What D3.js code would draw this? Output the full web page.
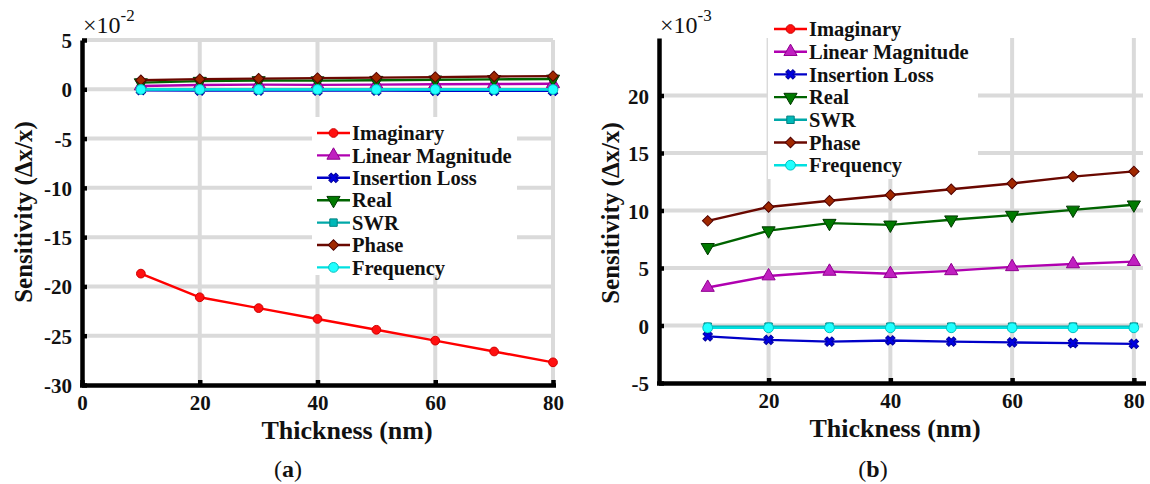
<!DOCTYPE html>
<html lang="en">
  <head>
    <meta charset="UTF-8" />
    <title>Sensitivity vs Thickness</title>
    <script src="https://d3js.org/d3.v7.min.js"></script>
    <style>
      body {
        margin: 0;
        background: #fff;
      }
      svg text {
        font-family: "Liberation Serif", "Times New Roman", serif;
      }
      .tick text {
        font-weight: bold;
        font-size: 21px;
        fill: #111;
      }
    </style>
  </head>
  <body>
    <div id="chart"></div>
    <script>
      // thickness in nm, sensitivity values in units of 1e-3
      const thickness = [10, 20, 30, 40, 50, 60, 70, 80];
      const imaginary = [-187, -211, -222, -233, -244, -255, -266, -277];
      const linearMagnitude = [3.3, 4.3, 4.7, 4.5, 4.75, 5.1, 5.35, 5.55];
      const insertionLoss = [-0.95, -1.25, -1.4, -1.3, -1.4, -1.47, -1.53, -1.6];
      const real = [6.8, 8.25, 8.9, 8.75, 9.2, 9.6, 10.05, 10.5];
      const swr = [-0.1, -0.1, -0.1, -0.1, -0.1, -0.1, -0.1, -0.1];
      const phase = [9.1, 10.3, 10.85, 11.35, 11.85, 12.35, 12.95, 13.4];
      const frequency = [-0.2, -0.2, -0.2, -0.2, -0.2, -0.2, -0.2, -0.2];

      const seriesNames = ["Imaginary", "Linear Magnitude", "Insertion Loss", "Real", "SWR", "Phase", "Frequency"];
      const seriesValues = [imaginary, linearMagnitude, insertionLoss, real, swr, phase, frequency];

      const xTicksA = [0, 20, 40, 60, 80];
      const yTicksA = [-30, -25, -20, -15, -10, -5, 0, 5];
      const xTicksB = [20, 40, 60, 80];
      const yTicksB = [-5, 0, 5, 10, 15, 20];

      const styles = [
        { line: "#ff0000", fill: "#ff1010", edge: "#d00000", sym: d3.symbolCircle, size: 60, rot: 0 },
        { line: "#b000b0", fill: "#c020c0", edge: "#900090", sym: d3.symbolTriangle, size: 75, rot: 0 },
        { line: "#0000c8", fill: "#0000e0", edge: "#0000a0", sym: d3.symbolCross, size: 55, rot: 45 },
        { line: "#006400", fill: "#007a00", edge: "#003800", sym: d3.symbolTriangle, size: 75, rot: 180 },
        { line: "#00a8a8", fill: "#00b8b8", edge: "#008080", sym: d3.symbolSquare, size: 55, rot: 0 },
        { line: "#6a0800", fill: "#a02800", edge: "#500000", sym: d3.symbolSquare, size: 55, rot: 45 },
        { line: "#00e0e0", fill: "#20ffff", edge: "#00c0c0", sym: d3.symbolCircle, size: 75, rot: 0 },
      ];

      const width = 1150;
      const height = 484;

      const svg = d3
        .select("#chart")
        .append("svg")
        .attr("width", width)
        .attr("height", height)
        .style("display", "block");

      svg.append("rect").attr("width", width).attr("height", height).attr("fill", "#fff");

      function drawPanel(cfg) {
        const x = d3.scaleLinear().domain(cfg.xDomain).range(cfg.xRange);
        const y = d3.scaleLinear().domain(cfg.yDomain).range(cfg.yRange);
        const g = svg.append("g");

        // grid
        g.append("g")
          .selectAll("line")
          .data(cfg.xTicks.filter((t) => t > cfg.xDomain[0]))
          .join("line")
          .attr("x1", (d) => x(d))
          .attr("x2", (d) => x(d))
          .attr("y1", cfg.yRange[0])
          .attr("y2", cfg.yRange[1])
          .attr("stroke", "#dadada")
          .attr("stroke-width", 4);
        g.append("g")
          .selectAll("line")
          .data(cfg.yTicks.filter((t) => t > cfg.yDomain[0]))
          .join("line")
          .attr("x1", cfg.xRange[0])
          .attr("x2", cfg.xRange[1])
          .attr("y1", (d) => y(d))
          .attr("y2", (d) => y(d))
          .attr("stroke", "#dadada")
          .attr("stroke-width", 4);

        // legend background hides the grid
        const lg = cfg.legend;
        g.append("rect")
          .attr("x", lg.box[0])
          .attr("y", lg.box[1])
          .attr("width", lg.box[2])
          .attr("height", lg.box[3])
          .attr("fill", "#fff");

        // data
        const clipId = "clip-" + cfg.id;
        svg.append("clipPath")
          .attr("id", clipId)
          .append("rect")
          .attr("x", cfg.xRange[0])
          .attr("y", cfg.yRange[1] - 8)
          .attr("width", cfg.xRange[1] - cfg.xRange[0] + 10)
          .attr("height", cfg.yRange[0] - cfg.yRange[1] + 8);

        const plot = g.append("g").attr("clip-path", `url(#${clipId})`);
        const line = d3
          .line()
          .x((d) => x(d[0]))
          .y((d) => y(d[1]));

        seriesValues.forEach((vals, i) => {
          const st = styles[i];
          const pts = thickness.map((t, j) => [t, vals[j] / cfg.unit]);
          plot.append("path")
            .datum(pts)
            .attr("fill", "none")
            .attr("stroke", st.line)
            .attr("stroke-width", 2.4)
            .attr("d", line);
          plot.append("g")
            .selectAll("path")
            .data(pts)
            .join("path")
            .attr("d", d3.symbol(st.sym, st.size))
            .attr("transform", (d) => `translate(${x(d[0])},${y(d[1])}) rotate(${st.rot})`)
            .attr("fill", st.fill)
            .attr("stroke", st.edge)
            .attr("stroke-width", 1);
        });

        // legend entries
        seriesNames.forEach((name, i) => {
          const st = styles[i];
          const ry = lg.y0 + i * lg.step;
          const row = g.append("g");
          row.append("line")
            .attr("x1", lg.x0)
            .attr("x2", lg.x0 + 33)
            .attr("y1", ry)
            .attr("y2", ry)
            .attr("stroke", st.line)
            .attr("stroke-width", 2.4);
          row.append("path")
            .attr("d", d3.symbol(st.sym, st.size))
            .attr("transform", `translate(${lg.x0 + 16.5},${ry}) rotate(${st.rot})`)
            .attr("fill", st.fill)
            .attr("stroke", st.edge);
          row.append("text")
            .attr("x", lg.x0 + 35)
            .attr("y", ry)
            .attr("dy", "0.35em")
            .attr("font-size", 20.5)
            .attr("font-weight", "bold")
            .attr("fill", "#111")
            .text(name);
        });

        // axes
        const fmt = (d) => String(d);
        const yAxis = g.append("g")
          .attr("transform", `translate(${cfg.xRange[0]},0)`)
          .call(d3.axisLeft(y).tickValues(cfg.yTicks).tickFormat(fmt).tickSize(-5).tickSizeOuter(0).tickPadding(10));
        const xAxis = g.append("g")
          .attr("transform", `translate(0,${cfg.yRange[0]})`)
          .call(d3.axisBottom(x).tickValues(cfg.xTicks).tickFormat(fmt).tickSize(-5).tickSizeOuter(0).tickPadding(10));
        [xAxis, yAxis].forEach((a) => {
          a.select(".domain").attr("stroke", "#000").attr("stroke-width", 4.5);
          a.selectAll(".tick line").attr("stroke", "#000").attr("stroke-width", 4.5);
        });
        xAxis.select(".domain").attr("d", `M${cfg.xRange[0] - 2},0.5H${cfg.xRange[1] + 3}`);
        yAxis.selectAll(".tick text").attr("dy", "0.36em");

        // exponent
        const ex = g.append("text")
          .attr("x", cfg.xRange[0] + 1)
          .attr("y", 33)
          .attr("font-size", 24)
          .attr("fill", "#111");
        ex.append("tspan").text("×10");
        ex.append("tspan").attr("dy", -12).attr("font-size", 17).text(cfg.expLabel);

        // axis labels
        g.append("text")
          .attr("transform", `translate(${cfg.yLabelX},${cfg.yLabelY}) rotate(-90)`)
          .attr("text-anchor", "middle")
          .attr("font-size", 25)
          .attr("font-weight", "bold")
          .attr("fill", "#111")
          .text("Sensitivity (Δx/x)");
        g.append("text")
          .attr("x", cfg.xLabelX)
          .attr("y", cfg.xLabelY)
          .attr("text-anchor", "middle")
          .attr("font-size", 26)
          .attr("font-weight", "bold")
          .attr("fill", "#111")
          .text("Thickness (nm)");

        // caption
        const cap = g.append("text")
          .attr("x", cfg.capX)
          .attr("y", 477)
          .attr("text-anchor", "middle")
          .attr("font-size", 24)
          .attr("fill", "#111");
        cap.append("tspan").text("(");
        cap.append("tspan").attr("font-weight", "bold").text(cfg.caption);
        cap.append("tspan").text(")");
      }

      drawPanel({
        id: "a",
        unit: 10,
        xDomain: [0, 80],
        xRange: [82, 553],
        yDomain: [-30, 5],
        yRange: [385, 40],
        xTicks: xTicksA,
        yTicks: yTicksA,
        expLabel: "-2",
        legend: { box: [312, 117, 205, 158], x0: 317, y0: 133, step: 22.4 },
        yLabelX: 32,
        yLabelY: 212,
        xLabelX: 347,
        xLabelY: 439,
        capX: 288,
        caption: "a",
      });

      drawPanel({
        id: "b",
        unit: 1,
        xDomain: [2, 81.5],
        xRange: [659, 1143],
        yDomain: [-5, 25],
        yRange: [383, 38],
        xTicks: xTicksB,
        yTicks: yTicksB,
        expLabel: "-3",
        legend: { box: [768, 12, 210, 167], x0: 774, y0: 29, step: 22.7 },
        yLabelX: 619,
        yLabelY: 213,
        xLabelX: 895,
        xLabelY: 437,
        capX: 873,
        caption: "b",
      });
    </script>
  </body>
</html>
